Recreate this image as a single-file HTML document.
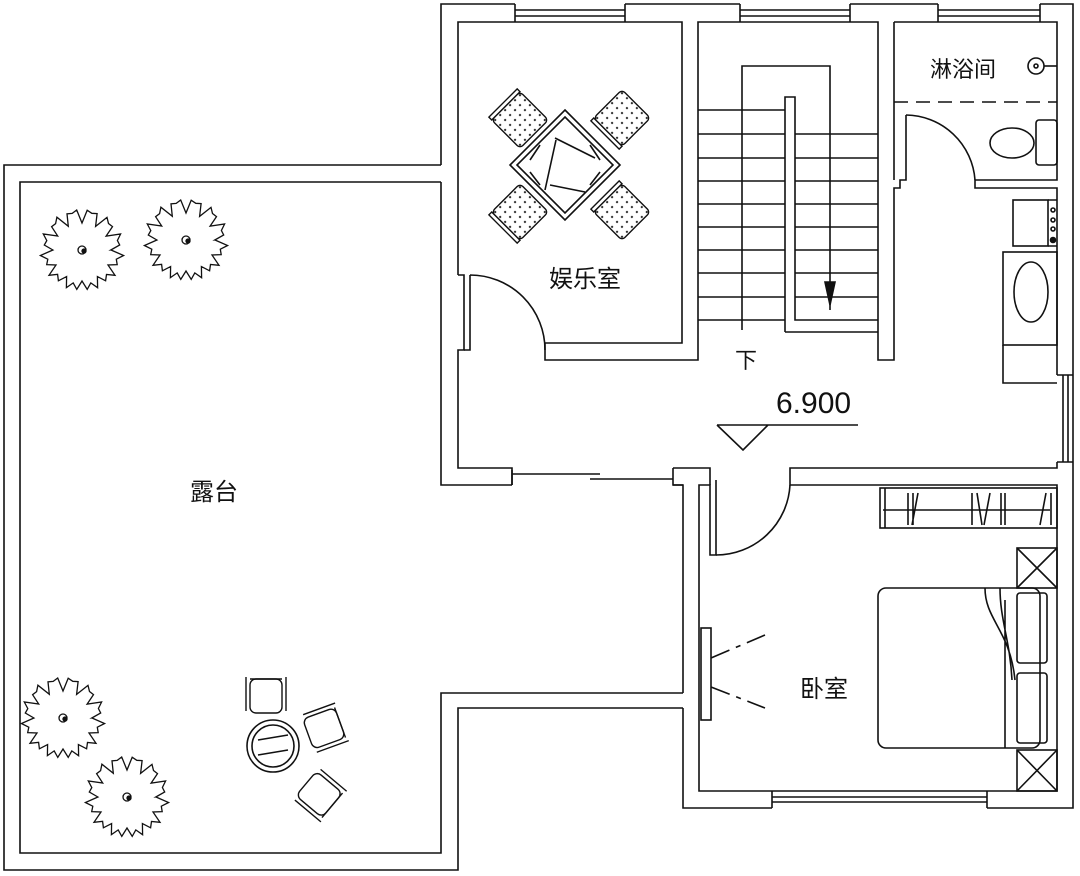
<!DOCTYPE html>
<html><head><meta charset="utf-8"><style>
html,body{margin:0;padding:0;background:#fff}
svg{display:block}
text{font-family:"Liberation Sans","Noto Sans CJK SC",sans-serif;fill:#111}
</style></head><body>
<svg id="s" width="1080" height="876" viewBox="0 0 1080 876" xmlns="http://www.w3.org/2000/svg">
<defs>
<pattern id="dots" width="7" height="7" patternUnits="userSpaceOnUse"><circle cx="3.5" cy="3.5" r="1.1" fill="#222"/></pattern>
</defs>
<g fill="none" stroke="#111" stroke-width="1.6">
<path d="M441,165 L4,165 L4,870 L458,870 L458,708 L683,708"/>
<path d="M441,182 L20,182 L20,853 L441,853 L441,693 L683,693"/>
<path d="M441,165 L441,4 L515,4 M625,4 L740,4 M850,4 L938,4 M1040,4 L1073,4 L1073,808 L987,808 M772,808 L683,808 L683,708"/>
<path d="M441,182 L441,485 L512,485 M673,485 L683,485 L683,693"/>
<path d="M515,4 L515,22 M625,4 L625,22 M515,10 L625,10 M515,16 L625,16 M740,4 L740,22 M850,4 L850,22 M740,10 L850,10 M740,16 L850,16 M938,4 L938,22 M1040,4 L1040,22 M938,10 L1040,10 M938,16 L1040,16"/>
<path d="M772,791 L772,808 M987,791 L987,808 M772,797 L987,797 M772,802 L987,802"/>
<path d="M1057,375 L1073,375 M1057,462 L1073,462 M1063,375 L1063,462 M1068,375 L1068,462"/>
<path d="M458,275 L458,22 L682,22 L682,343 L545,343 L545,360 L698,360 L698,22 L878,22 L878,360 L894,360 L894,188 L900,188 L900,180 L906,180 L906,115"/>
<path d="M458,275 L464,275 L464,350 L458,350 L458,468 L512,468 L512,485"/>
<path d="M464,350 L470,350 L470,275 M470,275 A75,75 0 0 1 545,350"/>
<path d="M512,474 L600,474 M590,479 L673,479 M512,470 L512,485 M673,468 L673,485 L683,485"/>
<path d="M673,468 L710,468 L710,485"/>
<path d="M894,22 L1057,22 L1057,180 L975,180 L975,188 L1057,188 L1057,375 M1057,462 L1057,468 L790,468 L790,485 L1057,485 L1057,791 L699,791 L699,485 L710,485 L710,555 L716,555 L716,480"/>
<path d="M894,22 L894,180 M906,115 A70,70 0 0 1 975,180"/>
<path d="M716,555 A74,74 0 0 0 790,485"/>
<path d="M894,102 L1057,102" stroke-dasharray="14,8"/>
<ellipse cx="1012" cy="143" rx="22" ry="15"/>
<rect x="1036" y="120" width="21" height="45" rx="3"/>
<circle cx="1036" cy="66" r="8"/><circle cx="1036" cy="66" r="2"/><path d="M1044,66 L1057,66"/>
<rect x="1013" y="200" width="35" height="46"/>
<path d="M1048,200 L1057,200 M1048,246 L1057,246"/>
<circle cx="1053" cy="210" r="2"/><circle cx="1053" cy="220" r="2"/><circle cx="1053" cy="229" r="2"/><circle cx="1053" cy="240" r="2.5" fill="#111"/>
<rect x="1003" y="252" width="54" height="93"/>
<ellipse cx="1031" cy="292" rx="17" ry="30"/>
<path d="M1003,345 L1003,383 L1057,383"/>
<path d="M698,110 L785,110 M698,134 L785,134 M698,158 L785,158 M698,181 L785,181 M698,204 L785,204 M698,227 L785,227 M698,250 L785,250 M698,273 L785,273 M698,297 L785,297 M698,320 L785,320"/>
<path d="M795,134 L878,134 M795,158 L878,158 M795,181 L878,181 M795,204 L878,204 M795,227 L878,227 M795,250 L878,250 M795,273 L878,273 M795,297 L878,297"/>
<path d="M785,332 L785,97 L795,97 L795,320 L878,320 M785,332 L878,332"/>
<path d="M742,330 L742,66 L830,66 L830,310"/>
<path d="M825,282 L835,282 L830,305 Z" fill="#111"/>
<path d="M717,425 L858,425 M717,425 L743,450 L768,425"/>
<path d="M565,110 L620,165 L565,220 L510,165 Z"/>
<path d="M565,117 L613,165 L565,213 L517,165 Z"/>
<path d="M555,138 L595,158 M550,185 L585,192 M556,140 L545,190 M540,145 L530,160 M590,145 L600,160 M540,185 L530,172 M590,185 L600,172"/>
<rect x="880" y="488" width="177" height="40"/>
<path d="M885,488 L885,528 M883,510 L1050,510"/>
<path d="M908,493 L908,525 M913,493 L913,525 M918,493 L912,525 M972,493 L972,525 M977,493 L982,525 M990,493 L984,525 M1001,493 L1001,525 M1005,493 L1005,525 M1046,493 L1040,525 M1051,493 L1051,525"/>
<rect x="878" y="588" width="162" height="160" rx="8"/>
<path d="M985,588 C985,620 1010,630 1015,680 M1000,588 C1000,620 1010,640 1012,680 M1005,600 L1005,748"/>
<rect x="1017" y="593" width="30" height="70" rx="3"/>
<rect x="1017" y="673" width="30" height="70" rx="3"/>
<rect x="1017" y="548" width="40" height="40"/><path d="M1017,548 L1057,588 M1057,548 L1017,588"/>
<rect x="1017" y="750" width="40" height="41"/><path d="M1017,750 L1057,791 M1057,750 L1017,791"/>
<rect x="701" y="628" width="10" height="92"/>
<path d="M711,658 L765,635 M711,687 L765,708" stroke-dasharray="20,7,5,7"/>
<circle cx="273" cy="746" r="26"/><circle cx="273" cy="746" r="21"/>
<path d="M258,740 L288,735 M258,755 L288,750"/>
</g>
<g id="chairs" stroke="#111" stroke-width="1.4"></g>
<g id="trees" fill="none" stroke="#111" stroke-width="1.3"></g>
<text x="549" y="287" font-size="24">娱乐室</text>
<text x="930" y="77" font-size="22">淋浴间</text>
<text x="735" y="368" font-size="22">下</text>
<text x="776" y="413" font-size="30">6.900</text>
<text x="190" y="500" font-size="24">露台</text>
<text x="800" y="697" font-size="24">卧室</text>
</svg>
<script>
var NS="http://www.w3.org/2000/svg";
function el(p,t,a){var e=document.createElementNS(NS,t);for(var k in a)e.setAttribute(k,a[k]);p.appendChild(e);return e;}
var ch=document.getElementById("chairs");
[[520,120,45],[622,118,-45],[520,212,-45],[622,212,45]].forEach(function(c){
 var g=el(ch,"g",{transform:"translate("+c[0]+","+c[1]+") rotate("+c[2]+")"});
 el(g,"rect",{x:-20,y:-20,width:40,height:40,rx:4,fill:"url(#dots)"});
 el(g,"rect",{x:-24,y:-20,width:4,height:40,fill:"#fff"});
});
[[266,695,0],[325,728,70],[320,795,130]].forEach(function(c){
 var g=el(ch,"g",{transform:"translate("+c[0]+","+c[1]+") rotate("+c[2]+")"});
 el(g,"rect",{x:-16,y:-16,width:32,height:34,rx:6,fill:"#fff"});
 el(g,"path",{d:"M-20,-18 L-20,16 M20,-18 L20,16 M-16,-16 L16,-16",fill:"none"});
});
var tr=document.getElementById("trees");
[[82,250],[186,240],[63,718],[127,797]].forEach(function(t){
 var d="",n=48;
 for(var i=0;i<=n;i++){var a=i/n*2*Math.PI;var r=38+((i%4==0)?-9:(i%2?2:-2))+Math.sin(i*1.7)*2;
  d+=(i?"L":"M")+(t[0]+r*Math.cos(a)).toFixed(1)+","+(t[1]+r*Math.sin(a)).toFixed(1);}
 el(tr,"path",{d:d+"Z"});
 el(tr,"circle",{cx:t[0],cy:t[1],r:4});
 el(tr,"circle",{cx:t[0]+2,cy:t[1]+1,r:2,fill:"#111"});
});
</script>
</body></html>
